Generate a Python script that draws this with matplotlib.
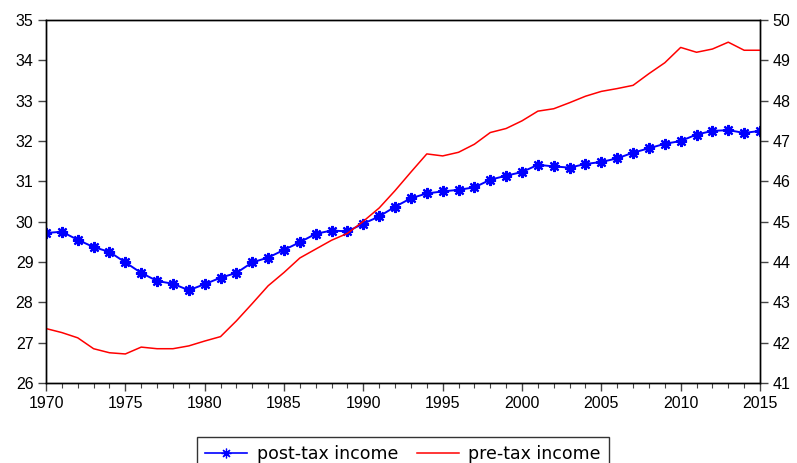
import matplotlib
matplotlib.use("Agg")
import matplotlib.pyplot as plt
from matplotlib.ticker import MultipleLocator

years = list(range(1970, 2016))

post_tax = [29.72, 29.75, 29.55, 29.37, 29.25, 28.99, 28.73, 28.53, 28.46, 28.30,
            28.45, 28.61, 28.73, 28.99, 29.11, 29.30, 29.49, 29.70, 29.78, 29.76,
            29.95, 30.13, 30.37, 30.58, 30.70, 30.75, 30.79, 30.85, 31.04, 31.14,
            31.23, 31.41, 31.37, 31.34, 31.43, 31.48, 31.57, 31.71, 31.82, 31.93,
            32.00, 32.16, 32.25, 32.27, 32.20, 32.25]

pre_tax = [42.35, 42.25, 42.12, 41.85, 41.75, 41.72, 41.89, 41.85, 41.85, 41.92,
           42.04, 42.15, 42.54, 42.97, 43.41, 43.74, 44.10, 44.32, 44.54, 44.71,
           45.01, 45.34, 45.77, 46.23, 46.68, 46.63, 46.72, 46.92, 47.21, 47.31,
           47.50, 47.74, 47.80, 47.95, 48.11, 48.23, 48.30, 48.38, 48.67, 48.94,
           49.32, 49.20, 49.28, 49.45, 49.25, 49.25]

plt.rcParams['font.family'] = ['Liberation Sans', 'DejaVu Sans']

W, H = 797, 463
fig = plt.figure(figsize=(W / 100, H / 100), dpi=100)
ax = fig.add_axes([46 / W, 1 - 383 / H, (760 - 46) / W, (383 - 20) / H])
ax2 = ax.twinx()

l1, = ax.plot(years, post_tax, color='#0000ff', lw=1.4,
              marker=(8, 2, 0), markersize=8, markeredgewidth=1.6,
              markeredgecolor='#0000ff')
l2, = ax2.plot(years, pre_tax, color='#ff0000', lw=1.1)

ax.set_xlim(1970, 2015)
ax.set_ylim(26, 35)
ax2.set_ylim(41, 50)
ax.set_xticks(range(1970, 2016, 5))
ax.xaxis.set_minor_locator(MultipleLocator(1))
ax.yaxis.set_major_locator(MultipleLocator(1))
ax2.yaxis.set_major_locator(MultipleLocator(1))

for a in (ax, ax2):
    for s in a.spines.values():
        s.set_linewidth(1.0)
        s.set_color('black')
    a.tick_params(axis='both', which='major', direction='out', length=6,
                  width=1.0, labelsize=11.5, pad=3, color='#444444')
    a.tick_params(axis='both', which='minor', direction='out', length=3.5,
                  width=0.8, color='#444444')

legend_line1 = plt.Line2D([], [], color='#0000ff', lw=1.2,
                          marker=(8, 2, 0), markersize=7, markeredgewidth=0.9)
leg = fig.legend([legend_line1, l2], ['post-tax income', 'pre-tax income'],
                 loc='upper center', bbox_to_anchor=(403 / W, 1 - 437 / H),
                 borderaxespad=0, ncol=2, frameon=True, fancybox=False,
                 edgecolor='black',
                 prop={'family': 'DejaVu Sans', 'size': 12.5},
                 handlelength=2.4, columnspacing=1.1, borderpad=0.45,
                 handletextpad=0.55)
leg.get_frame().set_linewidth(1.0)

fig.savefig('out.png', dpi=100)
